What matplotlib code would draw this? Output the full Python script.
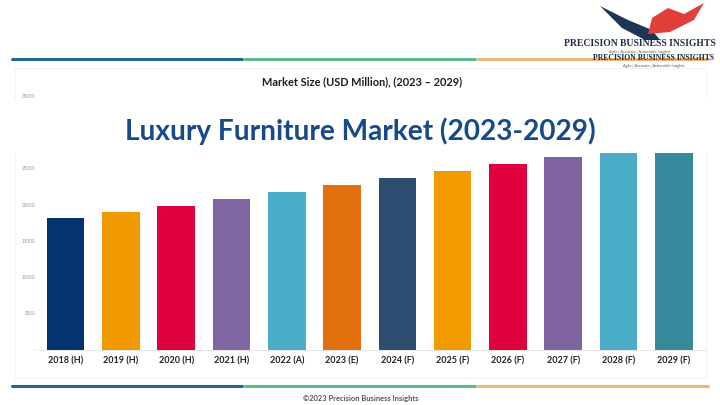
import matplotlib.pyplot as plt
from matplotlib.patches import Rectangle, Polygon
from matplotlib.lines import Line2D

# chart data
years = ['2018 (H)', '2019 (H)', '2020 (H)', '2021 (H)', '2022 (A)', '2023 (E)',
         '2024 (F)', '2025 (F)', '2026 (F)', '2027 (F)', '2028 (F)', '2029 (F)']
market_size = [18100, 19000, 19800, 20750, 21750, 22700,
               23700, 24650, 25600, 26600, 27550, 28500]
bar_colors = ['#03346f', '#f09a00', '#df003d', '#7f66a0', '#4badc7', '#e3700f',
              '#2c4d70', '#f29b00', '#df003d', '#7f64a0', '#4badc8', '#368a9c']
y_ticks = [0, 5000, 10000, 15000, 20000, 25000, 30000, 35000]
y_tick_labels = ['-', '5000', '10000', '15000', '20000', '25000', '30000', '35000']

W, H = 720, 405
plt.rcParams['font.family'] = ['Lato', 'DejaVu Sans']

fig = plt.figure(figsize=(W / 100, H / 100), dpi=100)
fig.patch.set_facecolor('white')


def px(x, y):
    # pixel (from top-left) -> figure fraction
    return x / W, 1 - y / H


# faint panel
fig.add_artist(Rectangle(px(15, 378), (706 - 15) / W, (378 - 68) / H,
                         transform=fig.transFigure, facecolor='none',
                         edgecolor='#f3f3f3', lw=0.7, zorder=0.5))

# coloured rules top and bottom
for yy in (59, 385.5):
    for (x0, x1), c in zip([(12, 242), (245, 475), (478, 708)],
                           ['#1f6a8c', '#5cb98e', '#efb877']):
        fig.add_artist(Line2D([x0 / W, x1 / W], [1 - yy / H, 1 - yy / H],
                              transform=fig.transFigure, color=c, lw=2.2,
                              solid_capstyle='round', zorder=2))

# axes
left, right, base = 38, 707, 349.5
ymax = 36000
top = base - ymax / 5000 * 36.2
ax = fig.add_axes([left / W, 1 - base / H, (right - left) / W, (base - top) / H])
x = range(len(years))
ax.bar(x, market_size, width=0.68, color=bar_colors, zorder=2)
ax.set_xlim(-0.5, 11.6)
ax.set_ylim(0, ymax)
ax.set_yticks(y_ticks)
ax.set_yticklabels(y_tick_labels, fontsize=3.3, color='#9a9a9a')
ax.set_xticks(list(x))
ax.set_xticklabels(years, fontsize=6.5, fontweight='bold', color='#222222')
ax.tick_params(axis='both', length=0)
ax.tick_params(axis='y', pad=2)
ax.tick_params(axis='x', pad=5)
for s in ['top', 'right', 'left']:
    ax.spines[s].set_visible(False)
ax.spines['bottom'].set_color('#e2e2e2')
ax.spines['bottom'].set_linewidth(0.6)
ax.patch.set_alpha(0)

# white band behind the big title
fig.add_artist(Rectangle(px(0, 152.5), 1, (152.5 - 100) / H,
                         transform=fig.transFigure, facecolor='white',
                         edgecolor='none', zorder=1))

fig.text(362 / W, 1 - 82 / H, 'Market Size (USD Million), (2023 \u2013 2029)',
         ha='center', va='center', fontsize=7.9, fontweight='bold', color='#1e1e1e', zorder=3)
fig.text(360 / W, 1 - 131 / H, 'Luxury Furniture Market (2023-2029)',
         ha='center', va='center', fontsize=20.2, fontweight='bold', color='#174a8b', zorder=3)
fig.text(361 / W, 1 - 398.5 / H, '\u00a92023 Precision Business Insights',
         ha='center', va='center', fontsize=5.4, fontweight='bold', color='#555555', zorder=3)

# logo
navy = [(600, 6), (628, 20), (652, 30), (660, 40), (645, 40), (622, 28)]
red = [(648, 34), (652, 18), (668, 8), (684, 14), (704, 3), (694, 20), (670, 32)]
for pts, c in [(navy, '#1e3557'), (red, '#e0403a')]:
    fig.add_artist(Polygon([px(a, b) for a, b in pts], closed=True,
                           transform=fig.transFigure, facecolor=c, edgecolor='none', zorder=2))
fig.text(639.5 / W, 1 - 43.5 / H, 'PRECISION BUSINESS INSIGHTS', ha='center', va='center',
         fontsize=6.9, fontweight='bold', family='Liberation Serif', color='#1e2d4a', zorder=3)
fig.text(640 / W, 1 - 51.5 / H, 'Agile | Accurate | Actionable Insights', ha='center',
         va='center', fontsize=2.8, color='#555555', zorder=3)
fig.text(654 / W, 1 - 57.5 / H, 'PRECISION BUSINESS INSIGHTS', ha='center', va='center',
         fontsize=5.6, fontweight='bold', family='Liberation Serif', color='#1e2d4a', zorder=3)
fig.text(654 / W, 1 - 66 / H, 'Agile | Accurate | Actionable Insights', ha='center',
         va='center', fontsize=2.8, color='#555555', zorder=3)

fig.savefig('out.png', dpi=100)
